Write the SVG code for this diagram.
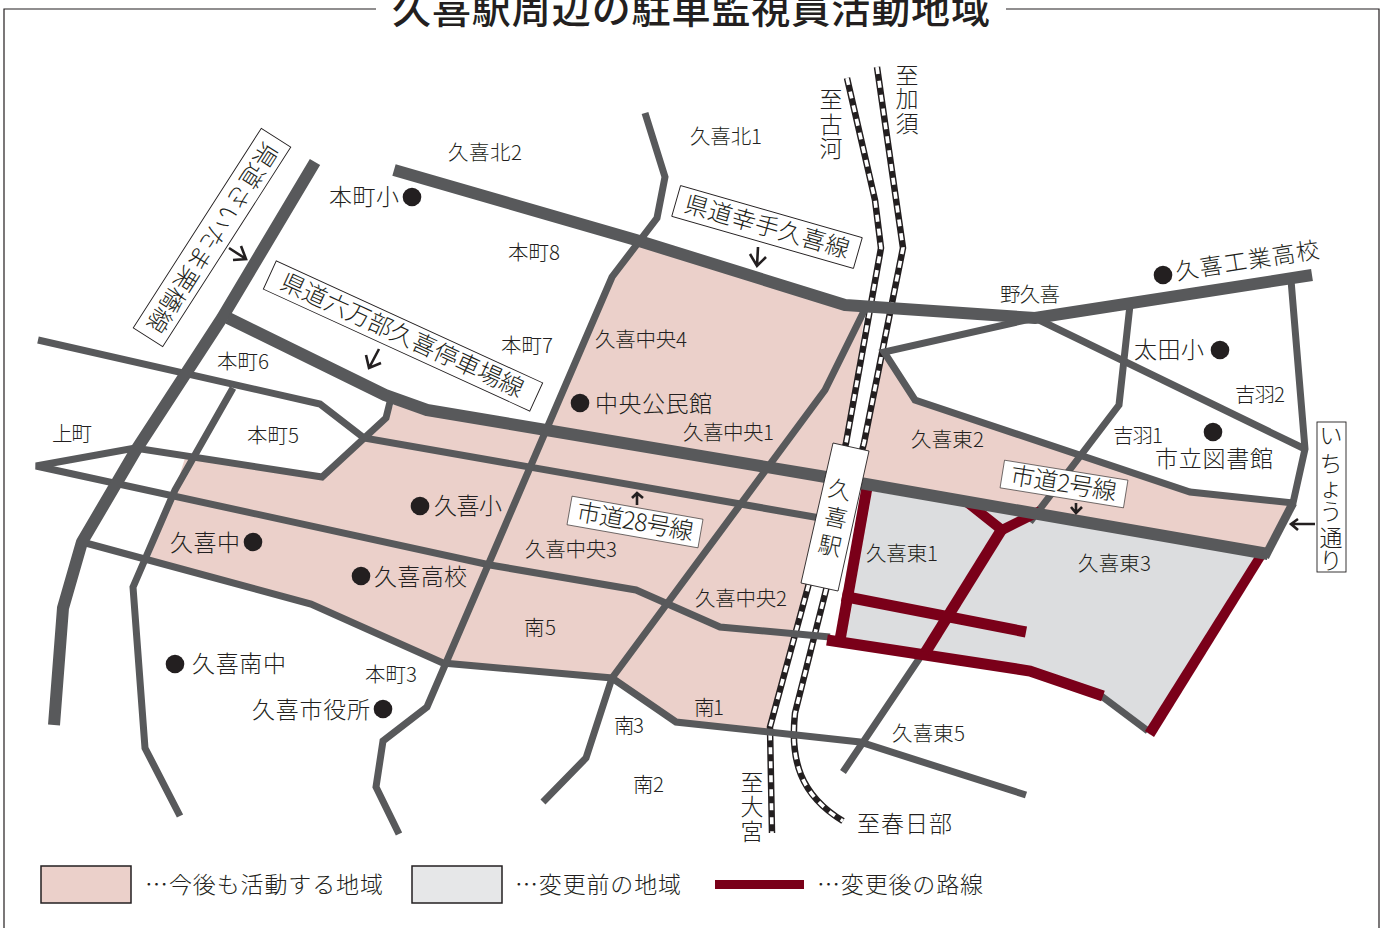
<svg xmlns="http://www.w3.org/2000/svg" width="1386" height="928" viewBox="0 0 1386 928">
<style>
text{font-family:"Noto Sans CJK JP","Noto Sans",sans-serif;fill:#231f20;font-size:20.5px;font-weight:300}
.m{font-size:23px}
.q{font-size:24px}
.c{text-anchor:middle}
.r{fill:none;stroke:#58595b;stroke-width:7;stroke-linejoin:miter}
.t{fill:none;stroke:#58595b;stroke-width:12;stroke-linejoin:round}
.b{fill:none;stroke:#7a0019;stroke-width:11;stroke-linejoin:miter}
.k{fill:none;stroke:#231f20;stroke-width:6.5}
.w{fill:none;stroke:#fff;stroke-width:3.6;stroke-dasharray:7 7}
.a{fill:none;stroke:#231f20;stroke-width:2.6}
.d{fill:#231f20}
.l{fill:#fff;stroke:#231f20;stroke-width:.9}
</style>
<defs>
<path id="rail1" d="M847,78L875,200L881,248L846,443L808,587L770,727L772,833"/>
<path id="rail2" d="M877,67L903,248L864,443L826,590L795,713C790,760 800,795 843,821"/>
</defs>
<rect width="1386" height="928" fill="#fff"/>
<g id="frame" fill="none" stroke="#231f20" stroke-width="1.2">
<path d="M376,9H4V928M1006,9H1379V928"/>
</g>
<g id="title"><text x="392" y="23" style="font-size:39px;font-weight:500" textLength="598">久喜駅周辺の駐車監視員活動地域</text></g>
<g id="areas">
<path fill="#ebd0ca" d="M636,240L845,305L866,305L846,443L808,587L770,730L676,722L612,678L443,663L311,604L148,562L175,490L185,458L322,477L386,418L395,402L427,410L545,430L612,277Z"/>
<path fill="#ebd0ca" d="M884,352L915,400L1190,492L1293,503L1265,555L860,485L867,445L872,482L864,443Z"/>
<path fill="#dcdddf" d="M866,490L1262,555L1150,735L1100,697L1030,671L835,638Z"/>
</g>
<g id="railways">
<use href="#rail1" class="k"/><use href="#rail1" class="w"/>
<use href="#rail2" class="k"/><use href="#rail2" class="w"/>
</g>
<g id="connectors">
<path class="r" d="M38,340L320,404L364,438L820,518"/>
<path class="r" d="M390,402L386,418L322,477L135,448L36,466L490,565L636,590L720,627L830,637"/>
<path class="r" d="M82,542L311,604L443,663L612,678L676,722L860,742L1026,795"/>
<path class="r" d="M233,388L175,490L133,587L145,748L180,816"/>
<path class="r" d="M645,113L665,177L657,218L612,277L427,707L383,741L376,787L399,834"/>
<path class="r" d="M866,307L825,390L612,678L586,758L543,802"/>
<path class="r" d="M1035,318L884,352L915,400L1190,492L1293,503L1305,449L1291,280"/>
<path class="r" d="M1035,318L1305,449"/>
<path class="r" d="M1130,305L1119,405L1030,522M925,650L843,772"/>
<path class="r" d="M1100,695L1148,731"/>
<path class="b" d="M868,482L840,640"/>
<path class="b" d="M827,640L1030,671L1103,696"/>
<path class="b" d="M842,596L1026,632"/>
<path class="b" d="M1002,529L925,653"/>
<path class="b" style="stroke-width:10" d="M968,503L1002,530L1040,511"/>
<polygon fill="#7a0019" points="1255,556 1265,558 1154,737 1145,731"/>
<path class="t" d="M315,162L222,318L136,450L82,542L63,608L54,725"/>
<path class="t" d="M394,170L636,240L845,305L1035,318L1312,275"/>
<path class="t" d="M228,318L385,395L427,410L820,476L1268,554"/>
<path class="r" style="stroke-width:8.500" d="M1293,503L1265,557"/>
</g>
<g id="station">
<polygon class="l" points="833,443 869,451 838,591 801,583"/>
<text class="m c" x="840" y="498" transform="rotate(12 840 490)">久</text>
<text class="m c" x="836" y="526" transform="rotate(12 836 518)">喜</text>
<text class="m c" x="830" y="554" transform="rotate(12 830 546)">駅</text>
</g>
<g id="road-labels">
<g id="road-satte"><g transform="translate(767 227) rotate(16)"><rect class="l" x="-94.500" y="-16" width="189" height="32"/><text x="-85" y="8" class="q" textLength="170">県道幸手久喜線</text></g><path class="a" d="M758,247L757,266M750,254L757,266L766,257"/></g>
<g id="road-rokumanbu"><g transform="translate(403 336) rotate(24.600)"><rect class="l" x="-146.500" y="-15.500" width="293" height="31"/><text x="-133" y="8" class="q" textLength="264">県道六万部久喜停車場線</text></g><path class="a" d="M379,349L369,368M366,355L369,368L381,363"/></g>
<g id="road-saitama"><g transform="translate(212 237.500) rotate(122.700)"><rect class="l" x="-118.500" y="-17.500" width="237" height="35"/><text x="-110" y="8" class="q" textLength="220">県道さいたま栗橋線</text></g><path class="a" d="M229,248L246,259M241,246L246,259L233,260"/></g>
<g id="road-28"><g transform="translate(635 522) rotate(10)"><rect class="l" style="stroke-width:.6" x="-66.500" y="-14.500" width="133" height="29"/><text x="-59" y="8" class="q" textLength="118">市道28号線</text></g><path class="a" d="M637,505L637,493M632,498L637,493L643,498"/></g>
<g id="road-2"><g transform="translate(1064 484) rotate(9.200)"><rect class="l" style="stroke-width:.6" x="-62.500" y="-14" width="125" height="28"/><text x="-54" y="8" class="q" textLength="107">市道2号線</text></g><path class="a" d="M1076,503L1076,513M1071,507L1076,513L1082,507"/></g>
<g id="road-icho"><rect class="l" x="1317" y="422" width="29" height="150"/><text class="m c" x="1331 1331 1331 1331 1331 1331" y="444 472 496 520 546 569">いちょう通り</text><path class="a" d="M1315,524L1291,524M1298,519L1291,524L1298,530"/></g>
</g>
<g id="places">
<circle class="d" cx="412" cy="197" r="9.300"/><circle class="d" cx="580" cy="403" r="9.300"/><circle class="d" cx="420" cy="506" r="9.300"/><circle class="d" cx="253" cy="542" r="9.300"/><circle class="d" cx="361" cy="576" r="9.300"/><circle class="d" cx="175" cy="664" r="9.300"/><circle class="d" cx="383" cy="709" r="9.300"/><circle class="d" cx="1163" cy="275" r="9.300"/><circle class="d" cx="1220" cy="350" r="9.300"/><circle class="d" cx="1213" cy="432" r="9.300"/>
<text class="m" x="329" y="205" textLength="70">本町小</text>
<text class="m" x="595" y="412" textLength="117">中央公民館</text>
<text class="m" x="1134" y="358" textLength="70">太田小</text>
<text class="m" x="1155" y="467" textLength="118">市立図書館</text>
<text class="m" x="434" y="514" textLength="68">久喜小</text>
<text class="m" x="170" y="551" textLength="70">久喜中</text>
<text class="m" x="374" y="585" textLength="93">久喜高校</text>
<text class="m" x="192" y="672" textLength="94">久喜南中</text>
<text class="m" x="252" y="718" textLength="118">久喜市役所</text>
<text class="m" x="0" y="0" textLength="145" transform="translate(1177 280) rotate(-9)">久喜工業高校</text>
</g>
<g id="districts">
<text x="448" y="160" textLength="74">久喜北2</text>
<text x="690" y="144" textLength="72">久喜北1</text>
<text x="508" y="260" textLength="52">本町8</text>
<text x="501" y="353" textLength="52">本町7</text>
<text x="217" y="369" textLength="52">本町6</text>
<text x="247" y="443" textLength="52">本町5</text>
<text x="52" y="441" textLength="40">上町</text>
<text x="595" y="347" textLength="92">久喜中央4</text>
<text x="683" y="440" textLength="91">久喜中央1</text>
<text x="911" y="447" textLength="73">久喜東2</text>
<text x="1113" y="443" textLength="50">吉羽1</text>
<text x="1235" y="402" textLength="50">吉羽2</text>
<text x="1000" y="302" textLength="60">野久喜</text>
<text x="365" y="682" textLength="52">本町3</text>
<text x="525" y="557" textLength="92">久喜中央3</text>
<text x="695" y="606" textLength="92">久喜中央2</text>
<text x="524" y="635" textLength="32">南5</text>
<text x="694" y="715" textLength="30">南1</text>
<text x="614" y="733" textLength="30">南3</text>
<text x="633" y="792" textLength="31">南2</text>
<text x="866" y="561" textLength="72">久喜東1</text>
<text x="1078" y="571" textLength="73">久喜東3</text>
<text x="892" y="741" textLength="73">久喜東5</text>
</g>
<g id="directions">
<text class="m c" x="831 831 831" y="108 133 157">至古河</text>
<text class="m c" x="907 907 907" y="84 107 132">至加須</text>
<text class="m c" x="752 752 752" y="791 815 840">至大宮</text>
<text class="m" x="857" y="832" textLength="95">至春日部</text>
</g>
<g id="legend">
<rect x="41" y="866" width="90" height="37" fill="#ebd0ca" stroke="#231f20" stroke-width="1.500"/>
<text class="m" x="145" y="893" textLength="238">…今後も活動する地域</text>
<rect x="412" y="866" width="90" height="37" fill="#e6e7e8" stroke="#231f20" stroke-width="1.500"/>
<text class="m" x="515" y="893" textLength="166">…変更前の地域</text>
<rect x="715" y="880" width="89" height="9" fill="#7a0019"/>
<text class="m" x="817" y="893" textLength="166">…変更後の路線</text>
</g>
</svg>
